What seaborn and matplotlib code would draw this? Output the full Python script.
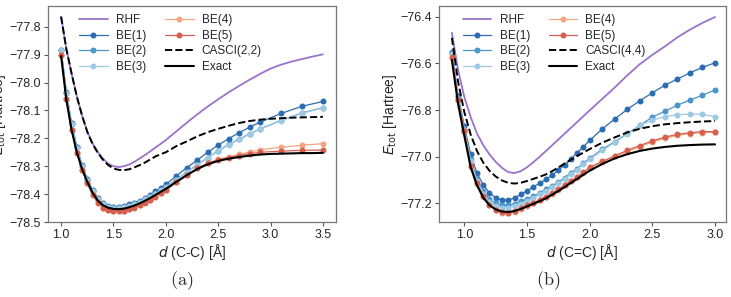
import numpy as np
import matplotlib
matplotlib.use("Agg")
import matplotlib.pyplot as plt
import seaborn as sns

# ---- panel (a): C-C stretch ----
d_be_a = [1.0, 1.05, 1.1, 1.15, 1.2, 1.25, 1.3, 1.35, 1.4, 1.45, 1.5, 1.55, 1.6, 1.65, 1.7,
          1.75, 1.8, 1.85, 1.9, 1.95, 2.0, 2.1, 2.2, 2.3, 2.4, 2.5, 2.6, 2.7, 2.8, 2.9,
          3.1, 3.3, 3.5]
be1_a = [-77.884, -78.035, -78.146, -78.230, -78.296, -78.345, -78.385, -78.415, -78.433,
         -78.443, -78.446, -78.446, -78.443, -78.437, -78.431, -78.423, -78.413, -78.402,
         -78.390, -78.378, -78.365, -78.335, -78.305, -78.278, -78.250, -78.224, -78.201,
         -78.180, -78.160, -78.142, -78.111, -78.085, -78.068]
be2_a = [-77.885, -78.036, -78.147, -78.232, -78.298, -78.348, -78.388, -78.418, -78.436,
         -78.446, -78.449, -78.449, -78.446, -78.441, -78.435, -78.427, -78.418, -78.408,
         -78.397, -78.386, -78.374, -78.348, -78.321, -78.295, -78.269, -78.245, -78.222,
         -78.203, -78.184, -78.166, -78.136, -78.109, -78.090]
be3_a = [-77.885, -78.037, -78.148, -78.233, -78.299, -78.349, -78.389, -78.419, -78.437,
         -78.447, -78.450, -78.450, -78.447, -78.442, -78.436, -78.428, -78.419, -78.409,
         -78.398, -78.387, -78.375, -78.349, -78.322, -78.296, -78.270, -78.246, -78.223,
         -78.204, -78.185, -78.167, -78.137, -78.110, -78.091]
be4_a = [-77.900, -78.059, -78.169, -78.251, -78.313, -78.360, -78.401, -78.430, -78.448,
         -78.457, -78.461, -78.461, -78.459, -78.453, -78.447, -78.439, -78.430, -78.420,
         -78.408, -78.396, -78.385, -78.357, -78.332, -78.307, -78.288, -78.275, -78.266,
         -78.258, -78.249, -78.241, -78.232, -78.225, -78.219]
be5_a = [-77.901, -78.060, -78.170, -78.252, -78.314, -78.361, -78.402, -78.431, -78.449,
         -78.458, -78.462, -78.462, -78.460, -78.454, -78.448, -78.440, -78.431, -78.421,
         -78.409, -78.397, -78.386, -78.358, -78.333, -78.308, -78.290, -78.278, -78.269,
         -78.262, -78.255, -78.250, -78.246, -78.243, -78.242]

d_line_a = [1.0, 1.05, 1.1, 1.15, 1.2, 1.25, 1.3, 1.35, 1.4, 1.45, 1.5, 1.55, 1.6, 1.65, 1.7,
            1.75, 1.8, 1.85, 1.9, 1.95, 2.0, 2.1, 2.2, 2.3, 2.4, 2.5, 2.6, 2.7, 2.8, 2.9,
            3.0, 3.1, 3.2, 3.3, 3.4, 3.5]
rhf_a = [-77.764, -77.880, -77.968, -78.050, -78.118, -78.176, -78.218, -78.249, -78.273,
         -78.291, -78.300, -78.303, -78.300, -78.294, -78.284, -78.272, -78.260, -78.247,
         -78.233, -78.220, -78.206, -78.175, -78.144, -78.114, -78.086, -78.060, -78.035,
         -78.012, -77.990, -77.969, -77.950, -77.936, -77.925, -77.916, -77.907, -77.899]
casci_a = [-77.764, -77.880, -77.968, -78.050, -78.119, -78.177, -78.220, -78.252, -78.277,
           -78.296, -78.308, -78.313, -78.314, -78.311, -78.304, -78.296, -78.287, -78.276,
           -78.265, -78.257, -78.250, -78.228, -78.211, -78.193, -78.178, -78.166, -78.155,
           -78.145, -78.138, -78.133, -78.130, -78.128, -78.126, -78.125, -78.124, -78.123]
exact_a = [-77.905, -78.062, -78.170, -78.250, -78.310, -78.356, -78.395, -78.423, -78.440,
           -78.449, -78.453, -78.454, -78.452, -78.447, -78.441, -78.433, -78.424, -78.414,
           -78.403, -78.392, -78.381, -78.356, -78.332, -78.310, -78.293, -78.281, -78.273,
           -78.267, -78.262, -78.258, -78.256, -78.255, -78.254, -78.253, -78.253, -78.252]

# ---- panel (b): C=C stretch ----
d_be_b = [0.9, 0.95, 1.0, 1.05, 1.1, 1.15, 1.2, 1.25, 1.3, 1.35, 1.4, 1.45, 1.5, 1.55, 1.6,
          1.65, 1.7, 1.75, 1.8, 1.85, 1.9, 1.95, 2.0, 2.1, 2.2, 2.3, 2.4, 2.5, 2.6, 2.7,
          2.8, 2.9, 3.0]
be1_b = [-76.550, -76.740, -76.870, -76.990, -77.070, -77.120, -77.155, -77.176, -77.186,
         -77.186, -77.177, -77.162, -77.146, -77.129, -77.114, -77.097, -77.079, -77.057,
         -77.036, -77.009, -76.983, -76.957, -76.930, -76.881, -76.838, -76.797, -76.760,
         -76.726, -76.693, -76.667, -76.640, -76.617, -76.597]
be2_b = [-76.555, -76.750, -76.880, -77.010, -77.095, -77.148, -77.182, -77.200, -77.207,
         -77.207, -77.201, -77.191, -77.182, -77.170, -77.156, -77.140, -77.125, -77.108,
         -77.090, -77.069, -77.051, -77.027, -77.007, -76.968, -76.936, -76.900, -76.866,
         -76.830, -76.805, -76.779, -76.757, -76.736, -76.714]
be3_b = [-76.558, -76.755, -76.885, -77.020, -77.103, -77.158, -77.193, -77.212, -77.220,
         -77.220, -77.212, -77.201, -77.189, -77.176, -77.162, -77.146, -77.130, -77.113,
         -77.095, -77.074, -77.055, -77.031, -77.011, -76.973, -76.939, -76.902, -76.866,
         -76.843, -76.829, -76.820, -76.817, -76.818, -76.829]
be4_b = [-76.575, -76.758, -76.892, -77.042, -77.116, -77.172, -77.208, -77.230, -77.241,
         -77.242, -77.236, -77.224, -77.211, -77.199, -77.187, -77.173, -77.158, -77.141,
         -77.123, -77.105, -77.088, -77.068, -77.048, -77.022, -76.998, -76.978, -76.957,
         -76.937, -76.921, -76.908, -76.901, -76.897, -76.895]
be5_b = [-76.574, -76.757, -76.890, -77.040, -77.114, -77.170, -77.206, -77.228, -77.239,
         -77.240, -77.234, -77.222, -77.209, -77.197, -77.185, -77.171, -77.156, -77.139,
         -77.121, -77.103, -77.086, -77.066, -77.046, -77.020, -76.996, -76.973, -76.952,
         -76.932, -76.916, -76.904, -76.897, -76.892, -76.893]

d_line_b = d_be_b
rhf_b = [-76.468, -76.630, -76.745, -76.830, -76.900, -76.950, -76.990, -77.022, -77.048,
         -77.066, -77.070, -77.062, -77.045, -77.024, -77.000, -76.976, -76.951, -76.926,
         -76.901, -76.876, -76.851, -76.826, -76.801, -76.752, -76.703, -76.651, -76.603,
         -76.563, -76.527, -76.488, -76.455, -76.426, -76.401]
casci_b = [-76.490, -76.680, -76.810, -76.905, -76.975, -77.025, -77.060, -77.085, -77.102,
           -77.112, -77.115, -77.112, -77.104, -77.095, -77.086, -77.076, -77.062, -77.046,
           -77.029, -77.013, -76.997, -76.982, -76.967, -76.940, -76.917, -76.896, -76.880,
           -76.869, -76.861, -76.856, -76.852, -76.849, -76.847]
exact_b = [-76.585, -76.775, -76.912, -77.045, -77.122, -77.175, -77.208, -77.226, -77.235,
           -77.237, -77.233, -77.224, -77.213, -77.202, -77.191, -77.178, -77.163, -77.147,
           -77.130, -77.112, -77.095, -77.077, -77.060, -77.031, -77.007, -76.989, -76.975,
           -76.965, -76.958, -76.953, -76.950, -76.948, -76.947]

be_labels = ["BE(1)", "BE(2)", "BE(3)", "BE(4)", "BE(5)"]
be_colors = ["#2b6cb3", "#4a96c9", "#9dc9e2", "#f3a582", "#d6604d"]
rhf_color = "#9b72cb"

sns.set_theme(style="ticks")
plt.rcParams["font.family"] = ["Liberation Sans", "DejaVu Sans"]
plt.rcParams["mathtext.fontset"] = "dejavusans"


def draw_panel(ax, d_be, be_series, d_line, rhf, casci, exact, cas_label):
    sns.lineplot(x=d_line, y=rhf, ax=ax, color=rhf_color, linewidth=1.3, label="RHF", sort=False)
    for vals, lab, col in zip(be_series, be_labels, be_colors):
        sns.lineplot(x=d_be, y=vals, ax=ax, color=col, linewidth=0.9, marker="o",
                     markersize=4.3, markeredgewidth=0, label=lab, sort=False)
    sns.lineplot(x=d_line, y=casci, ax=ax, color="black", linewidth=1.4, linestyle="--",
                 label=cas_label, sort=False)
    sns.lineplot(x=d_line, y=exact, ax=ax, color="black", linewidth=1.5, label="Exact", sort=False)
    for sp in ax.spines.values():
        sp.set_color("#777777")
        sp.set_linewidth(0.9)
    ax.tick_params(axis="both", labelsize=9, length=3, width=0.8, color="#555555", pad=2)
    ax.set_ylabel(r"$E_{\mathrm{tot}}$ [Hartree]", fontsize=10, labelpad=1)


fig = plt.figure(figsize=(7.31, 2.97), dpi=100)
ax_a = fig.add_axes([0.0657, 0.2525, 0.394, 0.727])
ax_b = fig.add_axes([0.6005, 0.2525, 0.3922, 0.727])

draw_panel(ax_a, d_be_a, [be1_a, be2_a, be3_a, be4_a, be5_a], d_line_a,
           rhf_a, casci_a, exact_a, "CASCI(2,2)")
draw_panel(ax_b, d_be_b, [be1_b, be2_b, be3_b, be4_b, be5_b], d_line_b,
           rhf_b, casci_b, exact_b, "CASCI(4,4)")

ax_a.set_xlim(0.875, 3.625)
ax_a.set_ylim(-78.5, -77.726)
ax_a.set_xticks([1.0, 1.5, 2.0, 2.5, 3.0, 3.5])
ax_a.set_yticks(np.round(np.arange(-78.5, -77.75, 0.1), 1))
ax_a.set_xlabel(r"$d$ (C-C) [Å]", fontsize=10, labelpad=1)

ax_b.set_xlim(0.797, 3.085)
ax_b.set_ylim(-77.28, -76.354)
ax_b.set_xticks([1.0, 1.5, 2.0, 2.5, 3.0])
ax_b.set_yticks([-77.2, -77.0, -76.8, -76.6, -76.4])
ax_b.set_xlabel(r"$d$ (C=C) [Å]", fontsize=10, labelpad=1)

for ax, x0 in [(ax_a, 0.08), (ax_b, 0.055)]:
    ax.legend(loc="upper left", bbox_to_anchor=(x0, 1.0), ncol=2, frameon=False,
              fontsize=8.5, handlelength=2.4, labelspacing=0.3, columnspacing=1.6,
              handletextpad=0.7, borderaxespad=0.3)

plt.rcParams["mathtext.fontset"] = "cm"
fig.text(0.249, 0.055, r"$\mathrm{(a)}$", ha="center", va="center", fontsize=13)
fig.text(0.750, 0.055, r"$\mathrm{(b)}$", ha="center", va="center", fontsize=13)

fig.savefig("out.png", dpi=100)
